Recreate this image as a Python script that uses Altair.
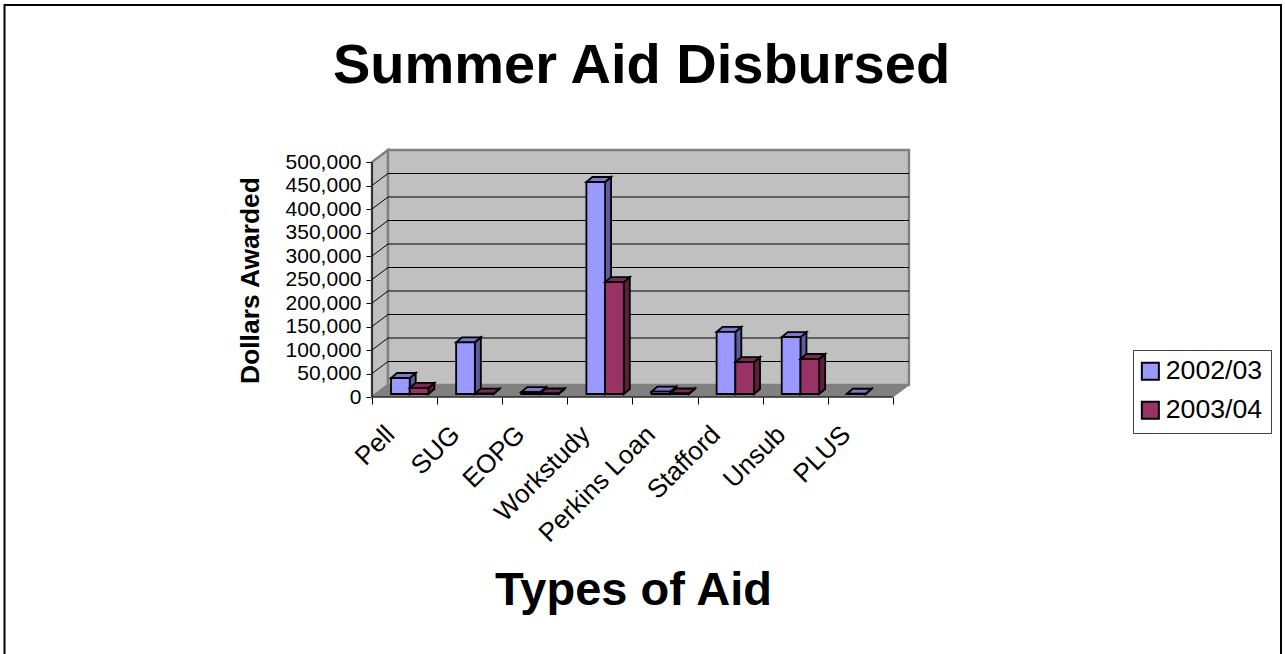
import altair as alt
import pandas as pd

# Award totals in dollars; None marks a year with no award of that type
categories = ["Pell", "SUG", "EOPG", "Workstudy", "Perkins Loan", "Stafford", "Unsub", "PLUS"]
aid_2002 = [34000, 110000, 4000, 451000, 5000, 132000, 121000, 500]
aid_2003 = [13000, 800, 1000, 238000, 1000, 68000, 74500, None]
series = ["2002/03", "2003/04"]
ticks = list(range(0, 500001, 50000))

# Colours for the bar faces: front, side, top
faces = {
    "2002/03": ("#9999FF", "#5C5C99", "#7A7ACC"),
    "2003/04": ("#993366", "#5C1F3D", "#7A2952"),
}

# Oblique projection, in axis units (one category = 65.1 px, 500,000 = 235 px)
WALL_DX, WALL_DV = 16 / 65.1, 12 / 235 * 500000
BAR_DX, BAR_DV = 6 / 65.1, 5 / 235 * 500000
BAR_X, BAR_V = 19 / 65.1, 6400
BAR_W = 18.7 / 65.1
XMAX, VMAX = 8 + WALL_DX, 500000 + WALL_DV

x_scale = alt.Scale(domain=[0, XMAX], nice=False, zero=False)
y_scale = alt.Scale(domain=[0, VMAX], nice=False)

# Every layer shares these axis definitions so they merge cleanly
label_lookup = "[" + ",".join(f"'{c}'" for c in categories) + ",''][datum.value]"
x_axis = alt.Axis(
    values=list(range(9)),
    title="Types of Aid",
    titleFont="Liberation Sans",
    titleFontSize=47,
    titleFontWeight="bold",
    titleColor="#000000",
    titleX=633 - 372,
    titleY=604 - 397,
    titleBaseline="alphabetic",
    labelExpr=label_lookup,
    labelFont="Liberation Sans",
    labelFontSize=26,
    labelColor="#000000",
    labelAngle=-45,
    labelAlign="right",
    labelBaseline="middle",
    labelOffset=18,
    labelPadding=26,
    labelOverlap=False,
    labelBound=False,
    labelFlush=False,
    tickColor="#000000",
    tickSize=7,
    domain=False,
    grid=False,
)
y_axis = alt.Axis(
    values=ticks,
    labelExpr="format(datum.value, ',')",
    title="Dollars Awarded",
    titleFont="Liberation Sans",
    titleFontSize=26.4,
    titleFontWeight="bold",
    titleColor="#000000",
    titleX=258 - 372,
    titleY=280 - 150,
    titleBaseline="alphabetic",
    labelFont="Liberation Sans",
    labelFontSize=21,
    labelColor="#000000",
    labelPadding=5,
    labelOverlap=False,
    tickColor="#000000",
    tickSize=6,
    domain=False,
    grid=False,
)
X = alt.X("x:Q", scale=x_scale, axis=x_axis)
Y = alt.Y("lo:Q", scale=y_scale, axis=y_axis, stack=False)


def rows(shape, xs, los, his):
    return [dict(shape=shape, x=a, lo=b, hi=c) for a, b, c in zip(xs, los, his)]


def area(records, fill, stroke, width):
    return alt.Chart(pd.DataFrame(records)).mark_area(
        fill=fill, stroke=stroke, strokeWidth=width, interpolate="linear", orient="vertical"
    ).encode(x=X, y=Y, y2="hi:Q", detail="shape:N")


def line(records, color, width):
    return alt.Chart(pd.DataFrame(records)).mark_line(
        color=color, strokeWidth=width, interpolate="linear"
    ).encode(x=X, y=Y, detail="shape:N")


# Side walls and floor of the chart box
left_wall = area(rows("left", [0, WALL_DX], [0, WALL_DV], [500000, VMAX]), "#C0C0C0", "#808080", 2.4)
back_wall = area(rows("back", [WALL_DX, XMAX], [WALL_DV, WALL_DV], [VMAX, VMAX]), "#C0C0C0", "#808080", 2.4)
floor = area(
    rows("floor", [0, WALL_DX, 8, XMAX], [0, 0, 0, WALL_DV], [0, WALL_DV, WALL_DV, WALL_DV]),
    "#808080", "#808080", 1,
)

# Gridlines bend where the left wall meets the back wall
grid_rows = []
for v in ticks[1:-1]:
    for gx, gv in [(0, v), (WALL_DX, v + WALL_DV), (XMAX, v + WALL_DV)]:
        grid_rows.append(dict(shape=str(v), x=gx, lo=gv))
grid = line(grid_rows, "#000000", 1)

# One set of faces per year, drawn back to front
bar_layers = []
for s, name in enumerate(series):
    values = aid_2002 if s == 0 else aid_2003
    front_fill, side_fill, top_fill = faces[name]
    side_rows, top_rows, front_rows = [], [], []
    for c, (cat, val) in enumerate(zip(categories, values)):
        if val is None:
            continue
        x0 = c + BAR_X + s * BAR_W
        x1 = x0 + BAR_W
        t = BAR_V + val
        side_rows += rows(cat, [x1, x1 + BAR_DX], [BAR_V, BAR_V + BAR_DV], [t, t + BAR_DV])
        top_rows += rows(
            cat,
            [x0, x0 + BAR_DX, x1, x1 + BAR_DX],
            [t, t, t, t + BAR_DV],
            [t, t + BAR_DV, t + BAR_DV, t + BAR_DV],
        )
        front_rows.append(dict(cat=cat, year=name, x=x0, x2=x1, lo=BAR_V, hi=t))
    bar_layers.append(area(side_rows, side_fill, "#000000", 1.8))
    bar_layers.append(area(top_rows, top_fill, "#000000", 1.8))
    bar_layers.append(
        alt.Chart(pd.DataFrame(front_rows)).mark_bar(stroke="#000000", strokeWidth=1.8).encode(
            x=X,
            x2="x2:Q",
            y=Y,
            y2="hi:Q",
            fill=alt.Fill(
                "year:N",
                scale=alt.Scale(domain=series, range=[faces[n][0] for n in series]),
                legend=alt.Legend(
                    title=None,
                    orient="none",
                    legendX=1133 - 372,
                    legendY=350 - 150,
                    padding=8,
                    fillColor="#FFFFFF",
                    strokeColor="#404040",
                    cornerRadius=0,
                    labelFont="Liberation Sans",
                    labelFontSize=26.7,
                    labelColor="#000000",
                    labelExpr="datum.label + '\u2009'",
                    symbolType="square",
                    symbolSize=290,
                    symbolStrokeColor="#000000",
                    symbolStrokeWidth=2,
                    symbolOffset=-4,
                    symbolOpacity=1,
                    rowPadding=11,
                    labelOffset=2,
                ),
            ),
        )
    )

# Front edges of the box
axis_frame = line(
    [dict(shape="v", x=0, lo=0), dict(shape="v", x=0, lo=500000),
     dict(shape="h", x=0, lo=0), dict(shape="h", x=8, lo=0)],
    "#000000", 1.2,
)

# Thin outline around the whole figure
frame = alt.Chart(pd.DataFrame({"x": [0]})).mark_rect(
    fill="transparent", stroke="#000000", strokeWidth=2
).encode(
    x=alt.value(4.5 - 372), x2=alt.value(1281 - 372), y=alt.value(5 - 150), y2=alt.value(670 - 150)
)

chart = alt.layer(
    frame, left_wall, back_wall, floor, grid, *bar_layers, axis_frame
).resolve_scale(fill="shared").properties(
    width=537,
    height=247,
    padding={"left": 372, "top": 150, "right": 376, "bottom": 257},
    autosize=alt.AutoSizeParams(type="none"),
    background="#FFFFFF",
    title=alt.TitleParams(
        "Summer Aid Disbursed",
        font="Liberation Sans",
        fontSize=56,
        fontWeight="bold",
        color="#000000",
        anchor="middle",
        dx=1,
        offset=-91,
    ),
).configure_view(stroke=None)

chart.save("out.html", embed_options={"renderer": "svg", "actions": False})
